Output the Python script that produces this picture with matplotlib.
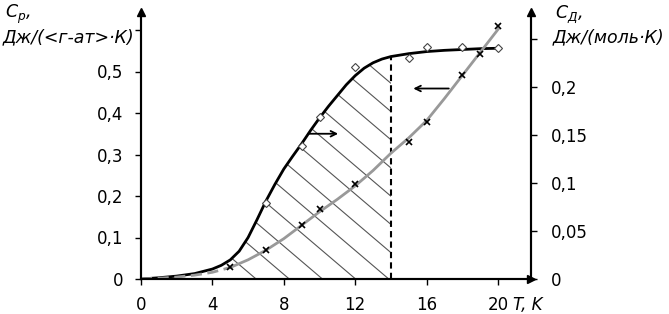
import matplotlib.pyplot as plt
import numpy as np

plt.rcParams['font.family'] = ['DejaVu Sans']
plt.rcParams['mathtext.fontset'] = 'dejavusans'

# C_p curve (left axis)
t_p = [0, 1, 2, 3, 4, 4.5, 5, 5.5, 6, 6.5, 7, 7.5, 8, 8.5, 9, 9.5, 10, 10.5, 11,
       11.5, 12, 12.5, 13, 13.5, 14, 15, 16, 17, 18, 19, 20]
c_p = [0, 0.003, 0.007, 0.013, 0.024, 0.033, 0.046, 0.067, 0.100, 0.143, 0.188,
       0.228, 0.265, 0.296, 0.326, 0.358, 0.388, 0.416, 0.442, 0.468, 0.490,
       0.508, 0.521, 0.530, 0.536, 0.543, 0.548, 0.551, 0.553, 0.555, 0.556]
t_p_pts = [7, 9, 10, 12, 15, 16, 18, 20]
c_p_pts = [0.184, 0.32, 0.39, 0.51, 0.533, 0.558, 0.558, 0.556]

# C_D curve (right axis)
t_d = [0, 1, 2, 3, 4, 5, 6, 7, 8, 9, 10, 11, 12, 13, 14, 15, 16, 17, 18, 19, 20]
c_d = [0, 0.0008, 0.002, 0.004, 0.007, 0.012, 0.020, 0.030, 0.042, 0.056, 0.070,
       0.083, 0.097, 0.113, 0.131, 0.147, 0.165, 0.188, 0.212, 0.236, 0.260]
t_d_pts = [5, 7, 9, 10, 12, 15, 16, 18, 19, 20]
c_d_pts = [0.0125, 0.030, 0.056, 0.073, 0.099, 0.143, 0.164, 0.2125, 0.234, 0.264]

t_left = 4.7
t_cut = 14

fig = plt.figure(figsize=(6.69, 3.14), dpi=100)
ax = fig.add_axes([141 / 669, 35 / 314, 390 / 669, 267 / 314])
ax.set_xlim(0, 390 / 17.85)
ax.set_ylim(0, 267 / 415)
ax2 = ax.twinx()
ax2.set_ylim(0, 267 / 960)

for a in (ax, ax2):
    a.spines['top'].set_visible(False)
    for s in a.spines.values():
        s.set_linewidth(1.5)

# hatched area under C_p between t_left and t_cut
tp = np.array(t_p, dtype=float)
cp = np.array(c_p, dtype=float)
mask = (tp >= t_left) & (tp <= t_cut)
xs = np.concatenate([[t_left], tp[mask], [t_cut]])
ys = np.concatenate([[np.interp(t_left, tp, cp)], cp[mask], [np.interp(t_cut, tp, cp)]])
poly = ax.fill_between(xs, 0, ys, facecolor='none', edgecolor='none')
slope = -0.0366
for a0 in np.arange(0.1, 1.2, 0.068):
    xx = np.array([0, 22])
    ln, = ax.plot(xx, a0 + slope * xx, color='#555555', lw=0.8, zorder=1)
    ln.set_clip_path(poly.get_paths()[0], ax.transData)

ax.plot([t_cut, t_cut], [0, np.interp(t_cut, tp, cp)], 'k--', lw=1.5, dashes=(3, 2))

# C_D curve
td = np.array(t_d, dtype=float)
cd = np.array(c_d, dtype=float)
ax2.plot(td[td <= 5], cd[td <= 5], color='#999999', lw=2, ls='--', dashes=(4, 2))
ax2.plot(td[td >= 5], cd[td >= 5], color='#999999', lw=2)
ax2.plot(t_d_pts, c_d_pts, 'x', color='k', ms=4, mew=1.2)

# C_p curve
ax.plot(t_p, c_p, color='k', lw=2, zorder=3)
ax.plot(t_p_pts, c_p_pts, 'D', mfc='white', mec='#444444', ms=4.5, mew=0.8, zorder=4)

# arrows
ax.annotate('', xy=(11.2, 0.35), xytext=(9.2, 0.35),
            arrowprops=dict(arrowstyle='->', lw=1.3, color='k'))
ax.annotate('', xy=(15.1, 0.459), xytext=(17.4, 0.459),
            arrowprops=dict(arrowstyle='->', lw=1.3, color='k'))

# axis arrowheads
ax.plot(1, 0, '>k', ms=6, transform=ax.transAxes, clip_on=False)
ax.plot(0, 1, '^k', ms=6, transform=ax.transAxes, clip_on=False)
ax.plot(1, 1, '^k', ms=6, transform=ax.transAxes, clip_on=False)

fs = 12

ax.set_xticks([0, 4, 8, 12, 16, 20])
ax.set_xticklabels(['0', '4', '8', '12', '16', '20'])
ax.set_yticks([0, 0.1, 0.2, 0.3, 0.4, 0.5, 0.6])
ax.set_yticklabels(['0', '0,1', '0,2', '0,3', '0,4', '0,5', ''])
ax2.set_yticks([0, 0.05, 0.1, 0.15, 0.2, 0.25])
ax2.set_yticklabels(['0', '0,05', '0,1', '0,15', '0,2', ''])
ax.tick_params(axis='x', length=4.5, width=1, pad=8, labelsize=fs)
ax.tick_params(axis='y', length=4.5, width=1, pad=8, labelsize=fs)
ax2.tick_params(axis='y', length=4.5, width=1, pad=10, labelsize=fs)

fig.text(5 / 669, 1 - 14 / 314, '$C_p$,', fontsize=12.5, style='italic', va='center')
fig.text(3 / 669, 1 - 37 / 314, 'Дж/(<г-ат>·К)', fontsize=12.5, style='italic', va='center')
fig.text(555 / 669, 1 - 14 / 314, '$C_Д$,', fontsize=12.5, style='italic', va='center')
fig.text(553 / 669, 1 - 37 / 314, 'Дж/(моль·К)', fontsize=12.5, style='italic', va='center')
fig.text(513 / 669, 1 - 305 / 314, 'T, K', fontsize=fs, style='italic', va='center')

fig.savefig('out.png', dpi=100)
